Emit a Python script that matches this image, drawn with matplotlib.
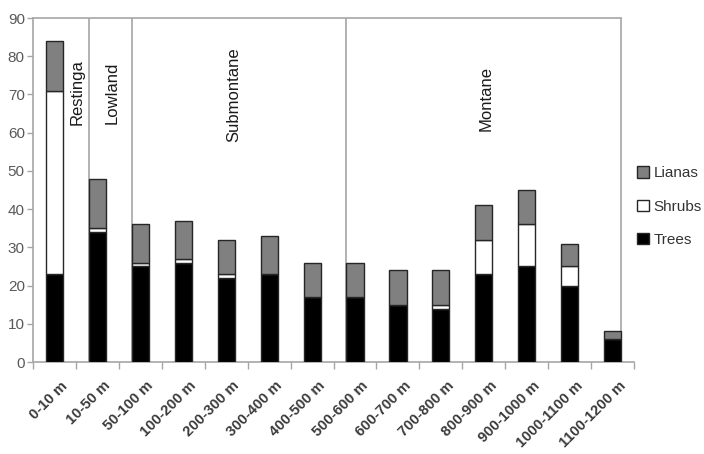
import numpy as np
import matplotlib.pyplot as plt
import matplotlib.transforms as mtransforms
from matplotlib.patches import Patch

plt.rcParams['font.family'] = ['Liberation Sans', 'DejaVu Sans']

# datos
categorias = ["0-10 m", "10-50 m", "50-100 m", "100-200 m", "200-300 m",
              "300-400 m", "400-500 m", "500-600 m", "600-700 m", "700-800 m",
              "800-900 m", "900-1000 m", "1000-1100 m", "1100-1200 m"]
arboles = [23, 34, 25, 26, 22, 23, 17, 17, 15, 14, 23, 25, 20, 6]
arbustos = [48, 1, 1, 1, 1, 0, 0, 0, 0, 1, 9, 11, 5, 0]
lianas = [13, 13, 10, 10, 9, 10, 9, 9, 9, 9, 9, 9, 6, 2]

zonas = ["Restinga", "Lowland", "Submontane", "Montane"]
zonas_x = [0.52, 1.34, 4.18, 10.05]
zonas_y = [70.5, 70.5, 70, 69]
limites = [0.8, 1.8, 6.8, 13.2]

GRIS_LIN = "#a6a6a6"
GRIS_TXT = "#595959"
BORDE = "#262626"

fig = plt.figure(figsize=(7.04, 4.54), dpi=100)
ax = fig.add_axes([0.047, 0.2026, 0.8536, 0.7577])

x = np.arange(len(categorias))
a = np.array(arboles)
s = np.array(arbustos)
l = np.array(lianas)
w = 0.4
ax.bar(x, a, w, color="black", edgecolor=BORDE, lw=1.0, zorder=3)
ax.bar(x, s, w, bottom=a, color="white", edgecolor=BORDE, lw=1.0, zorder=3)
ax.bar(x, l, w, bottom=a + s, color="#808080", edgecolor=BORDE, lw=1.0, zorder=3)

# recuadros de las zonas
for xv in limites:
    ax.plot([xv, xv], [0, 90], color=GRIS_LIN, lw=1.2, zorder=1)
ax.plot([-0.5, limites[-1]], [90, 90], color=GRIS_LIN, lw=1.2, zorder=1, clip_on=False)
for t, xz, yz in zip(zonas, zonas_x, zonas_y):
    ax.text(xz, yz, t, rotation=90, ha="center", va="center", fontsize=12, color="#1a1a1a")

ax.set_xlim(-0.5, 13.5)
ax.set_ylim(0, 90)
ax.set_yticks(np.arange(0, 91, 10))
ax.tick_params(axis="y", colors=GRIS_LIN, labelcolor=GRIS_TXT, labelsize=11,
               length=4, width=1, pad=2)
ax.set_xticks(x)
ax.set_xticklabels(categorias, rotation=45, ha="right", rotation_mode="anchor",
                   fontsize=10.6, color="#3a3a3a", fontweight="bold")
ax.tick_params(axis="x", length=0, pad=12)
desplaza = mtransforms.ScaledTranslation(6 / 100, 0, fig.dpi_scale_trans)
for et in ax.get_xticklabels():
    et.set_transform(et.get_transform() + desplaza)
ax.set_xticks(np.arange(-0.5, 13.6, 1), minor=True)
ax.tick_params(axis="x", which="minor", length=5, width=1, color=GRIS_LIN)
for lado in ["top", "right"]:
    ax.spines[lado].set_visible(False)
for lado in ["left", "bottom"]:
    ax.spines[lado].set_color(GRIS_LIN)
    ax.spines[lado].set_linewidth(1.2)

manijas = [Patch(facecolor="#808080", edgecolor=BORDE, label="Lianas"),
           Patch(facecolor="white", edgecolor=BORDE, label="Shrubs"),
           Patch(facecolor="black", edgecolor=BORDE, label="Trees")]
fig.legend(handles=manijas, loc="upper left", bbox_to_anchor=(0.885, 0.664),
           frameon=False, fontsize=11, handlelength=0.8, handleheight=0.8,
           handletextpad=0.3, labelspacing=1.25, labelcolor="#333333")

plt.savefig("out.png", dpi=100)
